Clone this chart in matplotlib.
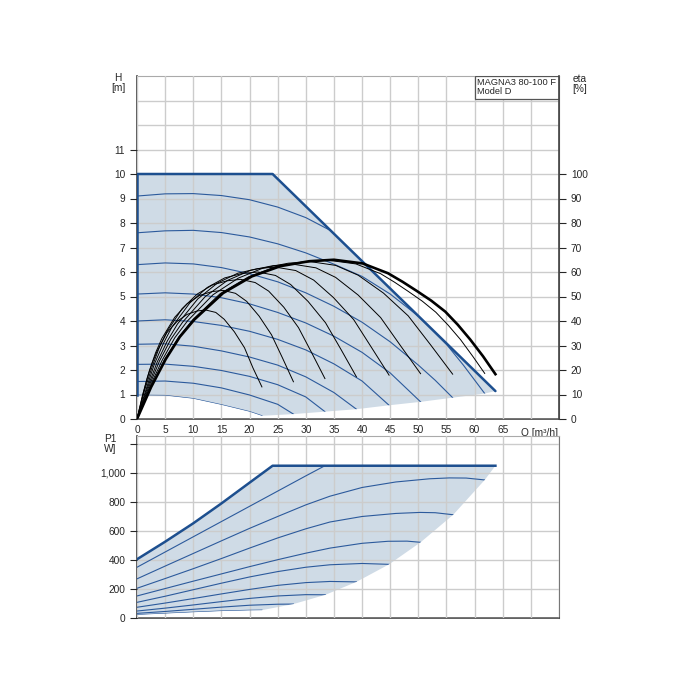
import matplotlib
matplotlib.use('Agg')
import matplotlib.pyplot as plt
from matplotlib.patches import Polygon, Rectangle

plt.rcParams['font.family'] = ['Liberation Sans', 'DejaVu Sans']

# ---------------- data: H (head) diagram ----------------
# operating-range boundary (max curve)
h_top_q = [0, 24.1, 63.7]
h_top_h = [10.0, 10.0, 1.14]
# lower boundary (end points of the speed curves)
h_low_q = [22.2, 27.8, 33.4, 39.0, 44.8, 50.4, 56.1, 61.8, 63.7]
h_low_h = [0.13, 0.20, 0.30, 0.40, 0.56, 0.70, 0.87, 1.04, 1.14]

# speed curves H(Q)
h_curves = [
    ([0, 5, 10, 15, 20, 25, 30, 35, 38], [9.1, 9.19, 9.2, 9.12, 8.95, 8.65, 8.22, 7.62, 7.2]),
    ([0, 5, 10, 15, 20, 25, 30, 35, 40, 45, 50, 55, 58, 61.8],
     [7.6, 7.68, 7.7, 7.61, 7.43, 7.15, 6.78, 6.32, 5.82, 5.1, 4.2, 3.05, 2.2, 1.04]),
    ([0, 5, 10, 15, 20, 25, 30, 35, 40, 45, 50, 53, 56.1],
     [6.3, 6.37, 6.33, 6.18, 5.93, 5.6, 5.15, 4.6, 3.95, 3.15, 2.2, 1.58, 0.87]),
    ([0, 5, 10, 15, 20, 25, 30, 35, 40, 45, 50.4],
     [5.1, 5.15, 5.1, 4.95, 4.7, 4.35, 3.92, 3.38, 2.72, 1.88, 0.7]),
    ([0, 5, 10, 15, 20, 25, 30, 35, 40, 44.8],
     [4.0, 4.05, 3.98, 3.82, 3.58, 3.25, 2.82, 2.25, 1.55, 0.56]),
    ([0, 5, 10, 15, 20, 25, 30, 35, 39.0],
     [3.05, 3.07, 2.97, 2.78, 2.53, 2.2, 1.72, 1.08, 0.4]),
    ([0, 5, 10, 15, 20, 25, 30, 33.4],
     [2.23, 2.24, 2.15, 1.98, 1.74, 1.4, 0.9, 0.3]),
    ([0, 5, 10, 15, 20, 25, 27.8],
     [1.53, 1.55, 1.46, 1.27, 0.98, 0.6, 0.2]),
    ([0, 5, 10, 15, 20, 22.2],
     [0.97, 0.96, 0.83, 0.58, 0.3, 0.13]),
]

# efficiency curves eta(Q) [%]; last one is the thick max-speed curve
eta_curves = [
    ([0, 0.9, 1.8, 2.7, 3.6, 5.3, 7.1, 8.9, 10.7, 12.2, 14.0, 15.5, 17.3, 19.1, 20.6, 22.2],
     [0, 8.9, 16.7, 22.9, 27.8, 35.2, 39.8, 42.7, 44.1, 44.5, 43.5, 40.7, 35.6, 29.1, 20.9, 13.1]),
    ([0, 1.1, 2.2, 3.3, 4.4, 6.7, 8.9, 11.1, 13.3, 15.3, 17.5, 19.5, 21.7, 23.9, 25.9, 27.8],
     [0, 10.5, 19.7, 27.0, 32.8, 41.5, 47.0, 50.4, 52.0, 52.5, 51.3, 48.0, 42.0, 34.4, 24.7, 15.2]),
    ([0, 1.3, 2.7, 4.0, 5.3, 8.0, 10.7, 13.4, 16.0, 18.4, 21.0, 23.4, 26.1, 28.7, 31.1, 33.4],
     [0, 11.4, 21.4, 29.4, 35.6, 45.0, 51.0, 54.7, 56.4, 57.0, 55.7, 52.2, 45.6, 37.3, 26.8, 16.5]),
    ([0, 1.6, 3.1, 4.7, 6.2, 9.4, 12.5, 15.6, 18.7, 21.5, 24.6, 27.3, 30.4, 33.5, 36.3, 39.0],
     [0, 12.0, 22.5, 30.9, 37.5, 47.4, 53.7, 57.6, 59.4, 60.0, 58.6, 54.9, 48.0, 39.3, 28.2, 17.2]),
    ([0, 1.8, 3.6, 5.4, 7.2, 10.8, 14.3, 17.9, 21.5, 24.6, 28.2, 31.4, 34.9, 38.5, 41.7, 44.8],
     [0, 12.4, 23.3, 31.9, 38.8, 49.0, 55.5, 59.5, 61.4, 62.0, 60.6, 56.7, 49.6, 40.6, 29.1, 17.9]),
    ([0, 2.0, 4.0, 6.0, 8.1, 12.1, 16.1, 20.2, 24.2, 27.7, 31.8, 35.3, 39.3, 43.3, 46.9, 50.4],
     [0, 12.6, 23.7, 32.5, 39.5, 49.9, 56.6, 60.7, 62.6, 63.2, 61.7, 57.8, 50.6, 41.4, 29.7, 18.5]),
    ([0, 2.2, 4.5, 6.7, 9.0, 13.5, 18.0, 22.4, 26.9, 30.9, 35.3, 39.3, 43.8, 48.2, 52.2, 56.1],
     [0, 12.8, 24.1, 33.1, 40.1, 50.7, 57.5, 61.6, 63.6, 64.2, 62.7, 58.7, 51.4, 42.1, 30.2, 18.3]),
    ([0, 2.5, 4.9, 7.4, 9.9, 14.8, 19.8, 24.7, 29.7, 34.0, 38.9, 43.3, 45.8, 48.2, 50.7,
      53.1, 55.3, 57.5, 59.7, 61.8],
     [0, 13.0, 24.3, 33.4, 40.5, 51.2, 58.0, 62.2, 64.2, 64.8, 63.3, 59.3, 55.8, 52.1, 48.1,
      43.6, 38.3, 32.4, 25.5, 18.6]),
    ([0, 2.5, 5.1, 7.6, 10.2, 15.3, 20.4, 25.5, 30.6, 35.0, 40.1, 44.6, 47.2, 49.7, 52.3,
      54.8, 57.0, 59.2, 61.5, 63.7],
     [0, 13.0, 24.4, 33.5, 40.6, 51.4, 58.2, 62.4, 64.4, 65.0, 63.5, 59.5, 56.0, 52.3, 48.3,
      43.8, 38.5, 32.5, 25.6, 18.3]),
]

# ---------------- data: P1 (power) diagram ----------------
p_top_q = [0, 5, 10, 15, 20, 24.1, 63.7]
p_top_p = [405, 526, 653, 790, 933, 1050, 1050]
p_low_q = [22.2, 27.8, 33.5, 39.0, 44.8, 50.4, 56.2, 61.8, 63.7]
p_low_p = [54, 96, 160, 249, 370, 522, 712, 952, 1050]

p_curves = [
    ([0, 5, 10, 15, 20, 25, 30, 33.4], [350, 455, 560, 665, 770, 875, 980, 1050]),
    ([0, 5, 10, 15, 20, 25, 30, 34.3, 40, 46, 52, 55.5, 58.5, 61.8],
     [270, 358, 445, 532, 618, 700, 780, 840, 900, 938, 960, 966, 965, 952]),
    ([0, 5, 10, 15, 20, 25, 30, 34.3, 40, 46, 50.3, 53, 56.2],
     [205, 272, 340, 410, 482, 552, 615, 662, 700, 721, 728, 726, 712]),
    ([0, 5, 10, 15, 20, 25, 30, 34.3, 40, 44.6, 48, 50.4],
     [152, 203, 254, 304, 354, 402, 447, 482, 515, 529, 530, 522]),
    ([0, 5, 10, 15, 20, 25, 30, 34.3, 40, 44.8],
     [108, 150, 195, 240, 283, 320, 350, 367, 376, 370]),
    ([0, 5, 10, 15, 20, 25, 30, 34.3, 39.0],
     [74, 103, 134, 166, 197, 225, 244, 252, 249]),
    ([0, 5, 10, 15, 20, 25, 30, 33.5], [48, 68, 90, 113, 135, 152, 161, 160]),
    ([0, 5, 10, 15, 20, 25, 27.8], [32, 45, 60, 75, 88, 95, 96]),
    ([0, 5, 10, 15, 20, 22.2], [22, 31, 40, 48, 53, 54]),
]

x_ticks = list(range(0, 80, 5))
x_labels = [str(v) for v in range(0, 70, 5)] + ['', '']
h_ticks = list(range(0, 12))
h_grid_extra = [12, 13]
eta_ticks = list(range(0, 110, 10))
p_ticks = [0, 200, 400, 600, 800, 1000, 1200]
p_labels = ['0', '200', '400', '600', '800', '1,000', '']

# ---------------- styling ----------------
FILL = '#cfdbe6'
BOUND = '#1d4f8f'
THIN = '#2c5a9c'
GRID = '#cccccc'
TXT = '#262626'
SPINE = '#444444'
FS = 7.3

W = H = 700
fig = plt.figure(figsize=(7, 7), dpi=100)
ax = fig.add_axes([137 / W, 281 / H, 422 / W, 343 / H])
axp = fig.add_axes([137 / W, 82 / H, 422 / W, 182 / H])

def style(a):
    a.set_xlim(0, 75)
    a.set_xticks(x_ticks)
    a.grid(True, which='both', color=GRID, lw=1.0)
    a.set_axisbelow(False)
    for s in ['left', 'bottom']:
        a.spines[s].set_color(SPINE)
        a.spines[s].set_linewidth(1.2)
    a.spines['right'].set_color('#777777')
    a.spines['top'].set_color('#aaaaaa')
    a.spines['top'].set_linewidth(0.8)
    a.tick_params(colors=TXT, labelsize=FS, length=4, width=0.8)

# ---- H diagram ----
style(ax)
ax.set_ylim(0, 14)
ax.set_yticks(h_ticks)
ax.set_yticks(h_grid_extra, minor=True)
ax.set_xticklabels(x_labels)
ax.tick_params(axis='x', length=0, pad=4)
ax.tick_params(axis='y', length=5)
ax.tick_params(axis='y', which='minor', length=0)

lowest_q, lowest_h = h_curves[-1]
poly_pts = list(zip(h_top_q, h_top_h)) + list(zip(h_low_q[::-1], h_low_h[::-1])) \
    + list(zip(lowest_q[::-1], lowest_h[::-1]))
hpoly = Polygon(poly_pts, closed=True, facecolor=FILL, edgecolor='none', zorder=1)
ax.add_patch(hpoly)
for q, h in h_curves:
    ln, = ax.plot(q, h, color=THIN, lw=0.8, zorder=3)
    ln.set_clip_path(hpoly)
ax.plot(h_top_q, h_top_h, color=BOUND, lw=1.8, zorder=4, solid_capstyle='round')
ax.plot([0, 0], [h_top_h[0], lowest_h[0]], color=BOUND, lw=1.8, zorder=4)

ax2 = ax.twinx()
ax2.set_ylim(0, 140)
ax2.set_yticks(eta_ticks)
ax2.tick_params(colors=TXT, labelsize=FS, length=5, width=0.8)
ax2.spines['right'].set_color(SPINE)
ax2.spines['right'].set_linewidth(1.2)
for sp in ['left', 'top', 'bottom']:
    ax2.spines[sp].set_visible(False)
for i, (q, e) in enumerate(eta_curves):
    last = i == len(eta_curves) - 1
    ax2.plot(q, e, color='black', lw=1.9 if last else 0.7, zorder=5)

# model box
ax.add_patch(Rectangle((60, 13.05), 15, 0.95, facecolor='white', edgecolor='#555555',
                       lw=0.9, zorder=6))
ax.text(60.35, 13.93, 'MAGNA3 80-100 F\nModel D', fontsize=6.7, color=TXT, va='top',
        ha='left', zorder=7, linespacing=1.1)

ax.text(74.8, -0.38, 'Q [m³/h]', fontsize=FS, color=TXT, ha='right', va='top')
fig.text(118 / W, 1 - 73 / H, 'H\n[m]', fontsize=FS, color=TXT, ha='center', va='top',
         linespacing=1.0)
fig.text(580 / W, 1 - 74 / H, 'eta\n[%]', fontsize=FS, color=TXT, ha='center', va='top',
         linespacing=1.0)

# ---- P1 diagram ----
style(axp)
axp.set_ylim(0, 1255)
axp.set_yticks(p_ticks)
axp.set_yticklabels(p_labels)
axp.set_xticklabels([])
axp.tick_params(axis='x', length=0)
axp.tick_params(axis='y', length=5)

plow_q, plow_p = p_curves[-1]
ppts = list(zip(p_top_q, p_top_p)) + list(zip(p_low_q[::-1], p_low_p[::-1])) \
    + list(zip(plow_q[::-1], plow_p[::-1]))
ppoly = Polygon(ppts, closed=True, facecolor=FILL, edgecolor='none', zorder=1)
axp.add_patch(ppoly)
for q, p in p_curves:
    ln, = axp.plot(q, p, color=THIN, lw=0.8, zorder=3)
    ln.set_clip_path(ppoly)
axp.plot(p_top_q, p_top_p, color=BOUND, lw=1.8, zorder=4)

fig.text(110 / W, 1 - 434 / H, 'P1\nW]', fontsize=FS, color=TXT, ha='center', va='top',
         linespacing=1.0)

fig.savefig('out.png', dpi=100)
